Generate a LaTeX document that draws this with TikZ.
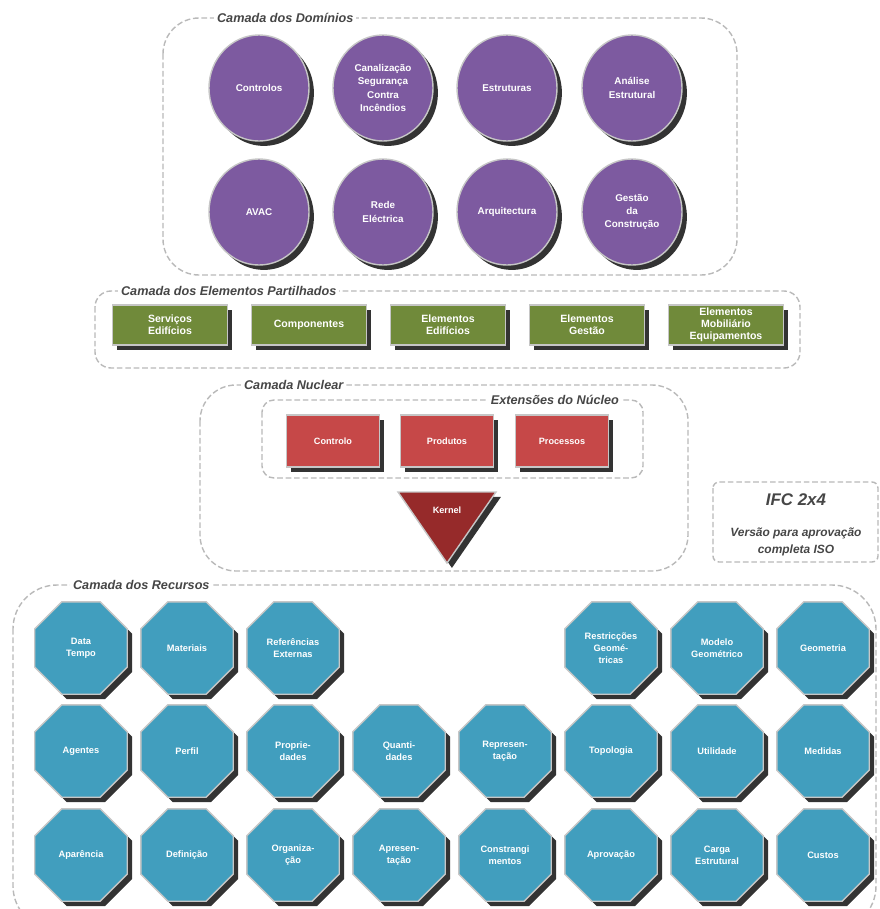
\documentclass[tikz,border=0pt]{standalone}
\usepackage{fontspec}
\setmainfont{Liberation Sans}
\usetikzlibrary{shapes.geometric}
\usetikzlibrary{shadows}
\definecolor{roxo}{RGB}{125,90,160}
\definecolor{verde}{RGB}{112,138,58}
\definecolor{vermelho}{RGB}{198,72,72}
\definecolor{kernelred}{RGB}{150,42,42}
\definecolor{azul}{RGB}{65,158,190}
\definecolor{cinzento}{RGB}{70,70,70}
\tikzset{
    camada/.style = {draw=gray!55, dash pattern=on 4pt off 2pt, line width=1pt},
    titulo/.style = {fill=white, inner sep=2pt, text=cinzento, font=\bfseries\itshape\fontsize{9}{11}\selectfont},
    sombra/.style = {drop shadow={shadow xshift=3.5pt, shadow yshift=-3.5pt, fill=black, opacity=0.8}},
    dominio/.style = {ellipse, sombra, draw=gray!45, line width=1pt, fill=roxo, minimum width=2.5cm, minimum height=2.65cm, inner sep=0pt, align=center, text=white, font=\bfseries\fontsize{7}{9.5}\selectfont},
    partilhado/.style = {rectangle, sombra, draw=gray!45, line width=1pt, fill=verde, minimum width=2.875cm, minimum height=1.0cm, inner sep=0pt, align=center, text=white, font=\bfseries\fontsize{7.5}{8.7}\selectfont},
    extensao/.style = {rectangle, sombra, draw=gray!45, line width=1pt, fill=vermelho, minimum width=2.325cm, minimum height=1.3cm, inner sep=0pt, align=center, text=white, font=\bfseries\fontsize{6.5}{8}\selectfont},
    recurso/.style = {regular polygon, regular polygon sides=8, sombra, draw=gray!45, line width=1pt, fill=azul, minimum size=2.5cm, inner sep=0pt, align=center, text=white, font=\bfseries\fontsize{6.6}{8.5}\selectfont}
}
\begin{document}
\begin{tikzpicture}[x=0.025cm, y=-0.025cm]
\clip (0,0) rectangle (880,909);

% camadas
\draw[camada, rounded corners=0.9cm] (163,18) rectangle (737,275);
\draw[camada, rounded corners=0.4cm] (95,291) rectangle (800,368);
\draw[camada, rounded corners=0.9cm] (200,385) rectangle (688,571);
\draw[camada, rounded corners=0.3cm] (262,400) rectangle (643,478);
\draw[camada, rounded corners=0.15cm] (713,482) rectangle (878,562);
\draw[camada, rounded corners=1.1cm] (13,585) rectangle (876,930);

\node[titulo, anchor=west] at (214,18) (tdominios) {Camada dos Domínios};
\node[titulo, anchor=west] at (118,291) (tpartilhados) {Camada dos Elementos Partilhados};
\node[titulo, anchor=west] at (241,385) (tnuclear) {Camada Nuclear};
\node[titulo, anchor=east] at (622,400) (textensoes) {Extensões do Núcleo};
\node[titulo, anchor=west] at (70,585) (trecursos) {Camada dos Recursos};

% dominios
\node[dominio] at (259, 88) (controlos) {Controlos};
\node[dominio] at (383, 88) (canalizacao) {Canalização\\Segurança\\Contra\\Incêndios};
\node[dominio] at (507, 88) (estruturas) {Estruturas};
\node[dominio] at (632, 88) (analise) {Análise\\Estrutural};
\node[dominio] at (259, 212) (avac) {AVAC};
\node[dominio] at (383, 212) (rede) {Rede\\Eléctrica};
\node[dominio] at (507, 212) (arquitectura) {Arquitectura};
\node[dominio] at (632, 212) (gestao) {Gestão\\da\\Construção};

% elementos partilhados
\node[partilhado] at (170, 325) (servicos) {Serviços\\Edifícios};
\node[partilhado] at (309, 325) (componentes) {Componentes};
\node[partilhado] at (448, 325) (edificios) {Elementos\\Edifícios};
\node[partilhado] at (587, 325) (elgestao) {Elementos\\Gestão};
\node[partilhado] at (726, 325) (mobiliario) {Elementos\\Mobiliário\\Equipamentos};

% nucleo
\node[extensao] at (333, 441) (controlo) {Controlo};
\node[extensao] at (447, 441) (produtos) {Produtos};
\node[extensao] at (562, 441) (processos) {Processos};
\fill[kernelred, draw=gray!45, line width=1pt, sombra] (398,492) -- (496,492) -- (447,563) -- cycle;
\node[text=white, font=\bfseries\fontsize{6.5}{8}\selectfont] at (447,510) (kernel) {Kernel};

% versao
\node[text=cinzento, font=\bfseries\itshape\fontsize{12}{14}\selectfont] at (796,500) (ifc) {IFC 2x4};
\node[text=cinzento, align=center, font=\bfseries\itshape\fontsize{8.5}{12}\selectfont] at (796,542) (versao) {Versão para aprovação\\completa ISO};

% recursos
\node[recurso] at (81, 648) (datatempo) {Data\\Tempo};
\node[recurso] at (187, 648) (materiais) {Materiais};
\node[recurso] at (293, 648) (referencias) {Referências\\Externas};
\node[recurso] at (611, 648) (restriccoes) {Restricções\\Geomé-\\tricas};
\node[recurso] at (717, 648) (modelo) {Modelo\\Geométrico};
\node[recurso] at (823, 648) (geometria) {Geometria};

\node[recurso] at (81, 751) (agentes) {Agentes};
\node[recurso] at (187, 751) (perfil) {Perfil};
\node[recurso] at (293, 751) (propriedades) {Proprie-\\dades};
\node[recurso] at (399, 751) (quantidades) {Quanti-\\dades};
\node[recurso] at (505, 751) (representacao) {Represen-\\tação};
\node[recurso] at (611, 751) (topologia) {Topologia};
\node[recurso] at (717, 751) (utilidade) {Utilidade};
\node[recurso] at (823, 751) (medidas) {Medidas};

\node[recurso] at (81, 855) (aparencia) {Aparência};
\node[recurso] at (187, 855) (definicao) {Definição};
\node[recurso] at (293, 855) (organizacao) {Organiza-\\ção};
\node[recurso] at (399, 855) (apresentacao) {Apresen-\\tação};
\node[recurso] at (505, 855) (constrangimentos) {Constrangi\\mentos};
\node[recurso] at (611, 855) (aprovacao) {Aprovação};
\node[recurso] at (717, 855) (carga) {Carga\\Estrutural};
\node[recurso] at (823, 855) (custos) {Custos};
\end{tikzpicture}
\end{document}
